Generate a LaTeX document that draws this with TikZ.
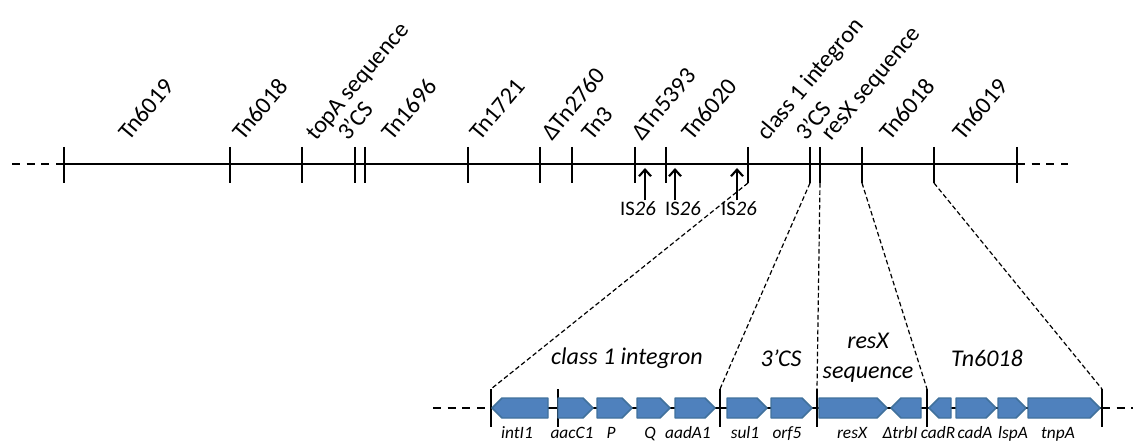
\documentclass[tikz,border=0pt]{standalone}
\usepackage{fontspec}
\setmainfont{Carlito}
\usetikzlibrary{arrows.meta,positioning}
\definecolor{GeneFill}{HTML}{4F81BD}
\definecolor{GeneEdge}{HTML}{41719C}
\newcommand{\generight}[2]{%
  \draw[gene] (#1,398) -- (#2-10,398) -- (#2,408) -- (#2-10,418) -- (#1,418) -- cycle;
}
\newcommand{\geneleft}[2]{%
  \draw[gene] (#2,398) -- (#1+10,398) -- (#1,408) -- (#1+10,418) -- (#2,418) -- cycle;
}

\begin{document}
\begin{tikzpicture}[x=0.75pt,y=-0.75pt,
    backbone/.style={line width=1.7pt},
    tick/.style={line width=1.7pt},
    ends/.style={line width=1.7pt,dash pattern=on 6pt off 5pt},
    zoomline/.style={line width=0.9pt,dash pattern=on 3.5pt off 2pt},
    gene/.style={fill=GeneFill,draw=GeneEdge,line width=1.1pt,line join=round},
    toplabel/.style={rotate=50,anchor=base west,inner sep=0pt,font=\fontsize{18}{20}\selectfont},
    islabel/.style={inner sep=1pt,font=\fontsize{15.5}{17}\selectfont},
    isarrow/.style={line width=1.6pt,-{Straight Barb[length=5pt,width=9pt]}},
    partlabel/.style={align=center,font=\fontsize{18}{22.5}\selectfont\itshape},
    genelabel/.style={anchor=base,inner sep=0pt,font=\fontsize{13}{15}\selectfont\itshape}]
  \useasboundingbox (0,0) rectangle (1142,442);
  % backbone of the plasmid region
  \draw[ends] (12,164) -- (64,164);
  \draw[backbone] (64,164) -- (1017,164);
  \draw[ends] (1017,164) -- (1068,164);
  \foreach \x [count=\i] in {64,230,302,355,365,468,540,572,635,666,748,810,820,862,934,1017}{
    \coordinate (t\i) at (\x,183);
    \draw[tick] (\x,147) -- (t\i);
  }
  \foreach \x/\txt [count=\i] in {129/Tn6019,243/Tn6018,316/topA sequence,348/3’CS,392/Tn1696,
      480/Tn1721,552/ΔTn2760,592/Tn3,642/ΔTn5393,692/Tn6020,767/class 1 integron,
      806/3’CS,831/resX sequence,890/Tn6018,963/Tn6019}{
    \node[toplabel] (l\i) at (\x,142) {\txt};
  }
  % IS26 insertions
  \coordinate (a1) at (645,168);
  \coordinate (a2) at (675,168);
  \coordinate (a3) at (737,168);
  \node[islabel] (is1) at (638,209) {IS\textit{26}};
  \node[islabel] (is2) at (683,209) {IS\textit{26}};
  \node[islabel] (is3) at (739,209) {IS\textit{26}};
  \foreach \i in {1,2,3}{\draw[isarrow] (is\i.north -| a\i) -- (a\i);}
  % expanded region
  \draw[ends] (433,408) -- (491,408);
  \draw[backbone] (491,408) -- (1102,408);
  \draw[ends] (1102,408) -- (1133,408);
  \foreach \x [count=\i] in {491,558,720,817,927,1102}{
    \coordinate (b\i) at (\x,389);
    \draw[tick] (b\i) -- (\x,427);
  }
  \draw[zoomline] (t11) -- (b1);
  \draw[zoomline] (t12) -- (b3);
  \draw[zoomline] (t13) -- (b4);
  \draw[zoomline] (t14) -- (b5);
  \draw[zoomline] (t15) -- (b6);
  \geneleft{492}{548}
  \generight{558}{593}\generight{597}{632}\generight{637}{670}\generight{675}{715}
  \generight{727}{767}\generight{771}{812}
  \generight{819}{887}\geneleft{891}{921}
  \geneleft{929}{951}\generight{956}{996}\generight{998}{1026}\generight{1028}{1100}
  \node[partlabel] (p1) at (627,358) {class 1 integron};
  \node[partlabel] (p2) at (781,358) {3’CS};
  \node[partlabel] (p3) at (868,358) {resX\\sequence};
  \node[partlabel] (p4) at (987,358) {Tn6018};
  \foreach \x/\txt [count=\i] in {517/intI1,572/aacC1,611/P,650/Q,688/aadA1,745/sul1,787/orf5,
      852/resX,900/ΔtrbI,938/cadR,975/cadA,1013/lspA,1058/tnpA}{
    \node[genelabel] (g\i) at (\x,438.5) {\txt};
  }
\end{tikzpicture}
\end{document}
